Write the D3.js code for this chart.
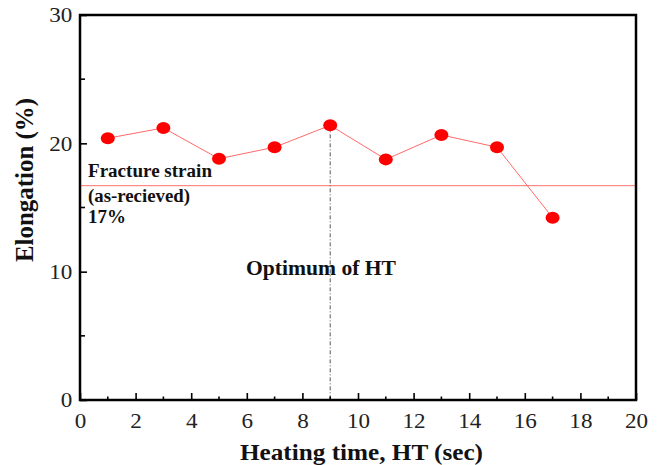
<!DOCTYPE html>
<html><head><meta charset="utf-8">
<script src="https://cdn.jsdelivr.net/npm/d3@7"></script>
<style>body{margin:0;background:#fff;} svg{display:block;}</style>
</head><body>
<svg id="c" width="659" height="465"></svg>
<script>
const heatingTime = [1, 3, 5, 7, 9, 11, 13, 15, 17];
const elongation = [20.4, 21.2, 18.8, 19.7, 21.4, 18.75, 20.65, 19.7, 14.2];
const fractureStrain = 16.7;
const optimumHT = 9;
const xTicks = [0, 2, 4, 6, 8, 10, 12, 14, 16, 18, 20];
const yTicks = [0, 10, 20, 30];

const svg = d3.select("#c");
const m = {l: 80, r: 23, t: 15, b: 65};
const W = 659, H = 465;
const x = d3.scaleLinear().domain([0, 20]).range([m.l, W - m.r]);
const y = d3.scaleLinear().domain([0, 30]).range([H - m.b, m.t]);
const font = '"Liberation Serif"';

svg.append("line").attr("x1", x(0)).attr("x2", x(20))
  .attr("y1", y(fractureStrain)).attr("y2", y(fractureStrain))
  .attr("stroke", "#ff7070").attr("stroke-width", 1);

const optIdx = heatingTime.indexOf(optimumHT);
svg.append("line").attr("x1", x(optimumHT)).attr("x2", x(optimumHT))
  .attr("y1", y(elongation[optIdx])).attr("y2", y(0))
  .attr("stroke", "#555").attr("stroke-width", 1).attr("stroke-dasharray", "4,2,1,2");

svg.append("path").datum(heatingTime.map((t, i) => [t, elongation[i]]))
  .attr("d", d3.line().x(d => x(d[0])).y(d => y(d[1])))
  .attr("fill", "none").attr("stroke", "#ff6a6a").attr("stroke-width", 1);

svg.selectAll("ellipse.pt").data(heatingTime).enter().append("ellipse")
  .attr("cx", d => x(d)).attr("cy", (d, i) => y(elongation[i]))
  .attr("rx", 7).attr("ry", 6).attr("fill", "#ff0000");

const xAxis = d3.axisBottom(x).tickValues(xTicks).tickSize(-7).tickPadding(13).tickFormat(d3.format("d"));
const gx = svg.append("g").attr("transform", `translate(0,${y(0)})`).call(xAxis);
const xMinor = d3.range(1, 20, 2);
gx.selectAll("line.minor").data(xMinor).enter().append("line").attr("class", "minor")
  .attr("x1", d => x(d)).attr("x2", d => x(d)).attr("y1", 0).attr("y2", -3.5)
  .attr("stroke", "#000").attr("stroke-width", 1.6);

const yAxis = d3.axisLeft(y).tickValues(yTicks).tickSize(-7).tickPadding(7).tickFormat(d3.format("d"));
const gy = svg.append("g").attr("transform", `translate(${x(0)},0)`).call(yAxis);
const yMinor = [5, 15, 25];
gy.selectAll("line.minor").data(yMinor).enter().append("line").attr("class", "minor")
  .attr("y1", d => y(d)).attr("y2", d => y(d)).attr("x1", 0).attr("x2", 5)
  .attr("stroke", "#000").attr("stroke-width", 1.6);

[gx, gy].forEach(g => {
  g.attr("font-family", null).attr("font-size", null);
  g.select(".domain").remove();
  g.selectAll(".tick line").attr("stroke", "#000").attr("stroke-width", 1.6);
  g.selectAll(".tick text").style("font-family", font).style("font-size", "21px")
    .attr("fill", "#222").attr("transform", "scale(1.1,1)");
});

svg.append("rect").attr("x", x(0)).attr("y", y(30)).attr("width", x(20) - x(0)).attr("height", y(0) - y(30))
  .attr("fill", "none").attr("stroke", "#000").attr("stroke-width", 2.5);

function label(tx, ty, size, len, txt, transform) {
  return svg.append("text")
    .attr("x", tx).attr("y", ty)
    .attr("transform", transform || null)
    .style("font-family", font).style("font-weight", "bold").style("font-size", size + "px")
    .attr("fill", "#111").attr("textLength", len).attr("lengthAdjust", "spacingAndGlyphs").text(txt);
}
label(88, 177, 18, 124, "Fracture strain");
label(88, 202, 18, 102, "(as-recieved)");
label(88, 223, 18, 38, "17%");
label(246, 275, 20.5, 150, "Optimum of HT");
label(240, 460, 23, 243, "Heating time, HT (sec)");
label(-262, 0, 22, 164, "Elongation (%)", "translate(33,0) scale(1.12,1) rotate(-90)");
</script>
</body></html>
